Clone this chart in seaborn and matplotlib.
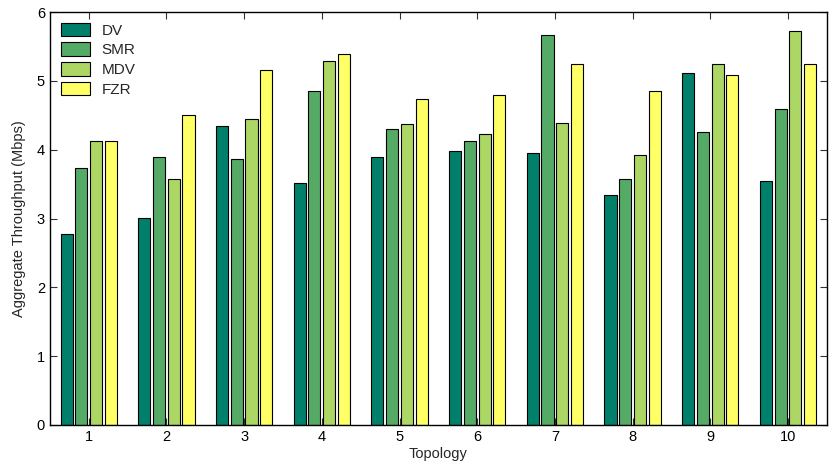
import matplotlib
matplotlib.use("Agg")
import matplotlib.pyplot as plt
import seaborn as sns
import pandas as pd

topologies = ["1", "2", "3", "4", "5", "6", "7", "8", "9", "10"]
protocols = ["DV", "SMR", "MDV", "FZR"]
dv  = [2.78, 3.01, 4.35, 3.52, 3.89, 3.98, 3.95, 3.34, 5.11, 3.54]
smr = [3.73, 3.90, 3.87, 4.86, 4.30, 4.12, 5.66, 3.58, 4.26, 4.59]
mdv = [4.12, 3.58, 4.45, 5.29, 4.38, 4.23, 4.39, 3.92, 5.25, 5.73]
fzr = [4.13, 4.51, 5.16, 5.39, 4.74, 4.80, 5.24, 4.85, 5.08, 5.24]
colors = ["#00806a", "#55ab66", "#acd765", "#ffff66"]

rows = []
for name, vals in zip(protocols, [dv, smr, mdv, fzr]):
    for t, v in zip(topologies, vals):
        rows.append({"Topology": t, "Protocol": name, "Throughput": v})
df = pd.DataFrame(rows)

sns.set_theme(style="white")
plt.rcParams["font.family"] = ["Liberation Sans", "DejaVu Sans"]

fig = plt.figure(figsize=(8.31, 4.73), dpi=100)
ax = fig.add_axes([0.060, 0.1015, 0.935, 0.873])

sns.barplot(data=df, x="Topology", y="Throughput", hue="Protocol",
            order=topologies, hue_order=protocols, palette=colors,
            width=0.76, gap=0.18, edgecolor="black", linewidth=0.8,
            errorbar=None, ax=ax, saturation=1)

ax.set_xlim(-0.5, 9.5)
ax.set_ylim(0, 6)
ax.set_yticks(range(0, 7))
ax.set_xlabel("Topology", fontsize=10.5, labelpad=2)
ax.set_ylabel("Aggregate Throughput (Mbps)", fontsize=10.5, labelpad=8)
ax.tick_params(direction="in", length=5, width=0.8, colors="#333333",
               labelcolor="black", labelsize=10.5, top=True, right=True,
               bottom=True, left=True)
for s in ax.spines.values():
    s.set_color("black")
    s.set_linewidth(1.0)
    s.set_visible(True)

leg = ax.legend(loc="upper left", bbox_to_anchor=(0.0, 1.0), frameon=False,
                fontsize=11, handlelength=1.9, handleheight=1.0,
                labelspacing=0.3, handletextpad=0.8, borderaxespad=0.3,
                borderpad=0.4)
for h in leg.legend_handles:
    h.set_edgecolor("black")
    h.set_linewidth(0.8)

fig.savefig("out.png", dpi=100)
